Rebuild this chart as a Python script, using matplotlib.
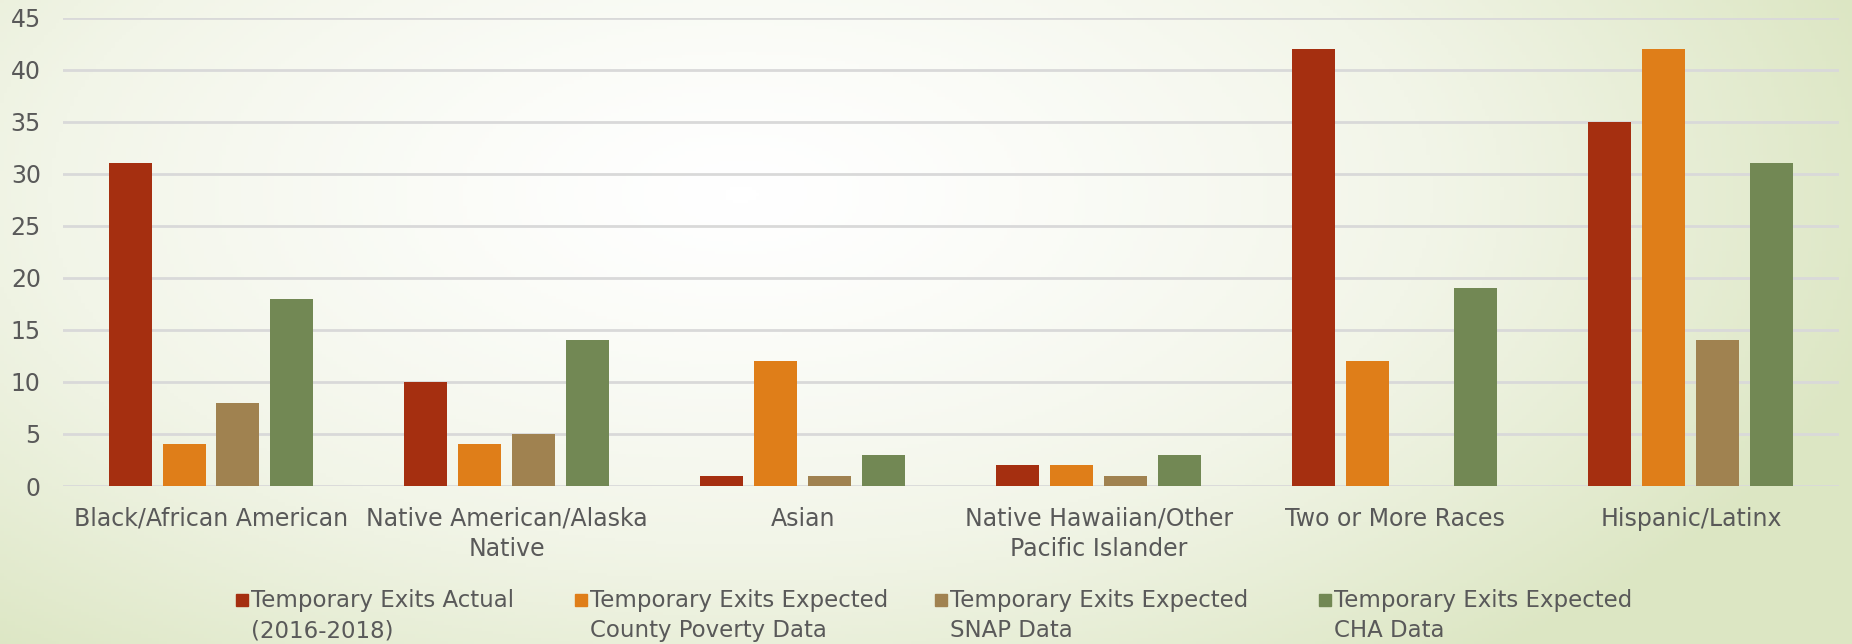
import numpy as np
import matplotlib
matplotlib.use("Agg")
import matplotlib.pyplot as plt
from matplotlib.colors import LinearSegmentedColormap
from matplotlib.patches import Rectangle

# -------------------------
# Data
# -------------------------
categories = [
    "Black/African American",
    "Native American/Alaska\nNative",
    "Asian",
    "Native Hawaiian/Other\nPacific Islander",
    "Two or More Races",
    "Hispanic/Latinx",
]
series_names = [
    "Temporary Exits Actual\n(2016-2018)",
    "Temporary Exits Expected\nCounty Poverty Data",
    "Temporary Exits Expected\nSNAP Data",
    "Temporary Exits Expected\nCHA Data",
]
actual = [31, 10, 1, 2, 42, 35]
county_poverty = [4, 4, 12, 2, 12, 42]
snap = [8, 5, 1, 1, 0, 14]
cha = [18, 14, 3, 3, 19, 31]
series_values = [actual, county_poverty, snap, cha]
colors = ["#A52F10", "#DF7E19", "#A08250", "#728854"]
y_ticks = list(range(0, 50, 5))

TEXT = "#595959"
W, H = 1852, 644

fig = plt.figure(figsize=(W / 100, H / 100), dpi=100)

# background: soft radial gradient, white centre fading to pale green
bg = fig.add_axes([0, 0, 1, 1], zorder=-10)
yy, xx = np.mgrid[0:1:200j, 0:1:500j]
d = np.sqrt(((xx - 0.40) / 0.75) ** 2 + ((yy - 0.30) / 1.1) ** 2)
d = np.clip(d / 0.85, 0, 1) ** 1.3
cmap = LinearSegmentedColormap.from_list("bg", ["#FFFFFF", "#F2F5E8", "#DCE6C3"])
bg.imshow(d, cmap=cmap, aspect="auto", extent=[0, 1, 1, 0], vmin=0, vmax=1)
bg.axis("off")

# plot area in pixels: x 63..1839, y 17.7..486
ax = fig.add_axes([63 / W, 1 - 486 / H, (1839 - 63) / W, (486 - 17.7) / H])
ax.patch.set_alpha(0)

x = np.arange(len(categories))
width = 43 / 296
pitch = 54 / 296
offsets = (np.arange(4) - 1.5) * pitch
for vals, off, c in zip(series_values, offsets, colors):
    ax.bar(x + off, vals, width=width, color=c, zorder=3)

ax.set_xlim(-0.5, len(categories) - 0.5)
ax.set_ylim(0, 45)
ax.set_yticks(y_ticks)
ax.yaxis.grid(True, color="#D9D9D9", linewidth=2)
ax.set_axisbelow(True)
for s in ax.spines.values():
    s.set_visible(False)
ax.tick_params(axis="both", length=0, labelsize=17, colors=TEXT)
ax.tick_params(axis="y", pad=16)
ax.tick_params(axis="x", pad=15)
ax.set_xticks(x)
ax.set_xticklabels(categories, linespacing=1.3)

# legend: square marker beside the first line of a two-line label
legend_x = [242, 581, 941, 1325]
for lx, c, name in zip(legend_x, colors, series_names):
    fig.patches.append(Rectangle(((lx - 6) / W, 1 - 606 / H), 12 / W, 12 / H,
                                 transform=fig.transFigure, color=c))
    fig.text((lx + 9) / W, 1 - 589 / H, name, ha="left", va="top",
             fontsize=16.5, color=TEXT, linespacing=1.4)

fig.savefig("out.png", dpi=100)
